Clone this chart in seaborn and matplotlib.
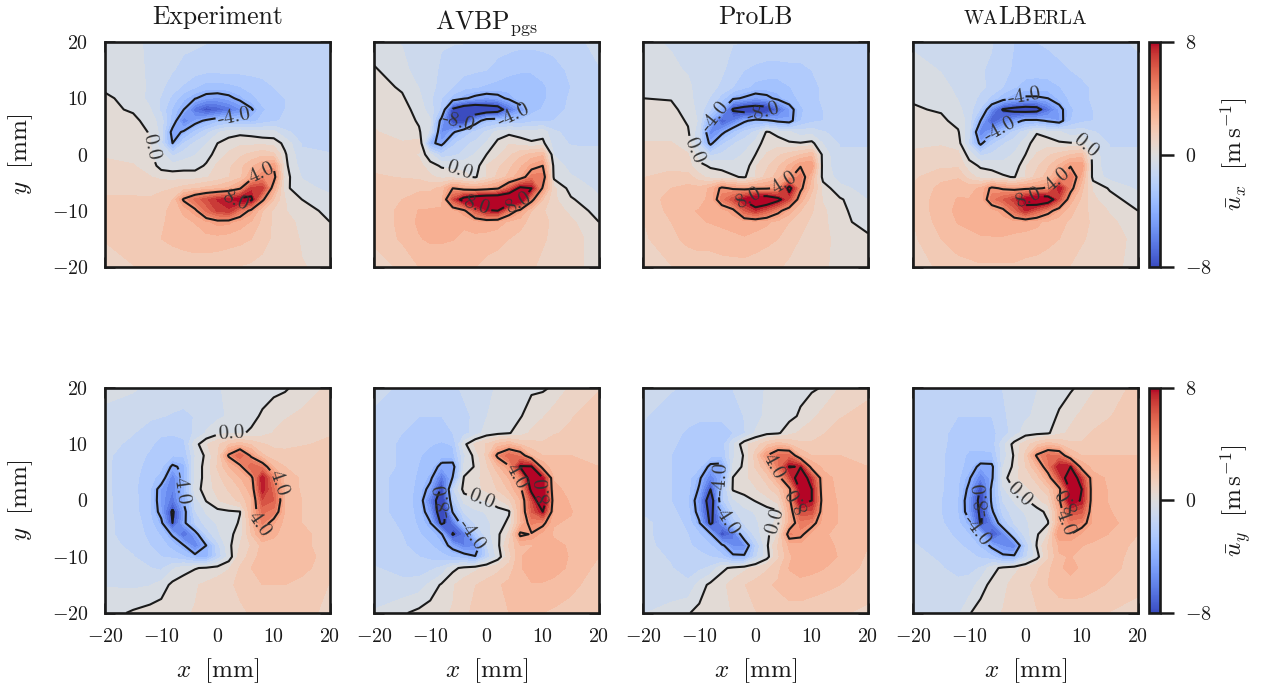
import numpy as np
import matplotlib
matplotlib.use("Agg")
import matplotlib.pyplot as plt
import seaborn as sns
from matplotlib.offsetbox import TextArea, HPacker, AnnotationBbox
from matplotlib.cm import ScalarMappable
from matplotlib.colors import Normalize

X_MM = [-20,-15,-12,-10,-8,-6,-4,-2,0,2,4,6,8,10,12,15,20]
Y_MM = [20,15,12,10,8,6,4,2,0,-2,-4,-6,-8,-10,-12,-15,-20]

EXP_UX = [
[-.3,-.5,-.8,-1.0,-1.1,-1.2,-1.2,-1.3,-1.3,-1.3,-1.3,-1.4,-1.5,-1.5,-1.5,-1.6,-1.7],
[-.2,-.4,-.8,-1.1,-1.3,-1.5,-1.7,-1.8,-1.8,-1.8,-1.8,-1.8,-1.8,-1.7,-1.6,-1.6,-1.7],
[-.1,-.3,-.8,-1.2,-1.7,-2.1,-2.6,-3.0,-3.0,-2.9,-2.7,-2.4,-2.2,-2,-1.8,-1.7,-1.7],
[.1,-.2,-.9,-1.4,-2.2,-3.2,-3.9,-4.6,-4.8,-4.4,-3.6,-2.9,-2.4,-2.2,-2,-1.8,-1.7],
[.2,-.1,-.6,-1.5,-2.8,-4.0,-6.5,-7.8,-7.2,-6.5,-5.5,-4.2,-2.8,-2.3,-2,-1.8,-1.7],
[.3,.2,-.3,-1,-3,-6,-4.6,-3.7,-3,-2.8,-2.8,-3,-2.4,-2.1,-1.9,-1.8,-1.7],
[.4,.3,-.05,-.9,-4.6,-3.8,-2.5,-1.6,-.8,-.3,-.2,-.3,-.5,-.5,-1.2,-1.6,-1.6],
[.5,.4,.05,-1.2,-4,-2,-1.2,-.7,0,.3,.5,.5,.5,.4,-.2,-1.4,-1.5],
[.6,.5,.1,-.4,-1.5,-1,-.7,-.3,.3,.8,1.2,1.5,1.8,1.5,.1,-1.2,-1.3],
[.8,.7,.4,-.3,-.4,-.3,-.3,.1,.8,1.2,1.8,2.5,3.2,3.8,.2,-1,-1.2],
[1,.9,.7,.5,.4,.4,.4,.6,.9,1.3,1.8,3.2,4.6,4.6,.3,-.7,-1],
[1.2,1.2,1.1,1.2,1.3,1.6,1.9,2.2,2.4,2.8,3.8,7,7,3.2,.2,-.5,-.8],
[1.4,1.4,1.4,1.6,2,4.2,5.5,6.5,7.4,7.8,8.6,8.4,4.3,2,.7,0,-.5],
[1.4,1.5,1.6,1.8,2.2,2.8,3.7,5.5,6.8,7.2,5.2,3.6,2,1.2,.7,.3,-.2],
[1.5,1.6,1.8,1.9,2.2,2.5,2.7,3.2,3.6,3.5,3,2.6,1.8,1.2,.9,.5,0],
[1.4,1.7,1.9,2,2.1,2.2,2.3,2.4,2.4,2.3,2.2,2,1.6,1.2,1,.6,.2],
[.8,1.3,1.5,1.6,1.7,1.7,1.7,1.6,1.5,1.4,1.3,1.2,1.1,1,.9,.7,.5],
]
AVBP_UX = [
[-.5,-.7,-.9,-1,-1.3,-1.3,-1.3,-1.5,-1.5,-1.6,-1.7,-1.8,-1.8,-1.8,-1.8,-1.7,-1],
[.1,-.5,-.9,-1.2,-1.4,-1.6,-1.8,-1.9,-2,-2.3,-2.5,-2.6,-2.6,-2.4,-2.2,-1.9,-1.4],
[.3,-.1,-.7,-1.1,-1.6,-2,-2.4,-2.6,-2.8,-2.9,-3,-3,-3,-2.8,-2.4,-2,-1.5],
[.4,.1,-.5,-1.2,-2,-3,-3.8,-4.4,-4.8,-4.5,-3.7,-3,-3,-2.8,-2.4,-1.9,-1.6],
[.5,.3,-.3,-1,-2.2,-8.4,-10,-10.5,-9.8,-9.4,-6.5,-4.7,-3,-2.6,-2.2,-1.9,-1.6],
[.6,.4,-.1,-.6,-4.6,-8.3,-8.7,-5,-3,-2.8,-2.7,-2.6,-2.2,-2.2,-2,-1.8,-1.6],
[.7,.5,.1,-.8,-5.5,-4.3,-2.6,-1.8,-1.2,-.4,-.2,-.4,-.4,-.3,-1.2,-1.6,-1.5],
[.9,.7,1,-3.6,-4.5,-2.2,-1.5,-1.2,-.6,.2,.6,.4,.1,.2,-1,-1.4,-1.4],
[1,.9,.6,-.5,-1.8,-1.5,-1.2,-.6,0,.5,1.2,1.8,2.2,2.5,-.7,-1.1,-1.2],
[1.2,1.1,.9,.3,-.1,-.2,-.2,-.4,.7,1.2,1.8,2.5,3.5,4,-.3,-.9,-1.1],
[1.4,1.3,1.2,.8,.5,.4,.2,-.1,.7,1.5,2.2,3.2,5,5,-.2,-.6,-1],
[1.5,1.6,1.8,1.8,2.2,4,3.3,3,3.3,3.8,6,8.5,8,3.8,.8,-.3,-.8],
[1.5,2,2.4,2.5,2.4,6.4,9,10,10.5,10.5,10.5,9.5,4.5,2,.8,.1,-.6],
[1.5,2.2,2.7,2.7,2.8,3.0,3.7,6,7.8,8,5,3.5,2,1.4,1,.5,-.3],
[1.5,2.2,2.8,2.8,2.8,2.8,2.8,3,3.2,3,2.5,2.2,1.8,1.5,1.2,.8,0],
[1.5,2.1,2.6,2.8,2.8,2.7,2.5,2.5,2.3,2.2,2,1.8,1.6,1.4,1.2,.9,.4],
[.9,1.5,2,2,2,2,2,2,1.8,1.7,1.6,1.6,1.4,1.2,1,.8,.5],
]
PROLB_UX = [
[-.6,-.7,-.8,-.9,-1,-1.2,-1.3,-1.3,-1.3,-1.4,-1.4,-1.5,-1.5,-1.5,-1.5,-1.5,-1.4],
[-.5,-.6,-.7,-.9,-1,-1.2,-1.7,-2,-2.2,-2.3,-2.3,-2.2,-2.2,-2,-1.8,-1.5,-1.4],
[-.3,-.4,-.6,-.8,-1.1,-1.5,-2,-2.5,-2.9,-3,-3,-2.7,-2.4,-2.2,-1.9,-1.6,-1.4],
[0,-.05,-.5,-.9,-1.4,-2.3,-3.7,-4.2,-4.8,-4.4,-3.6,-3,-2.5,-2.2,-1.9,-1.6,-1.4],
[.2,.2,-.3,-.9,-2,-3.7,-8.3,-9.2,-9.6,-9.2,-6.8,-4.8,-2.8,-2.3,-2,-1.6,-1.4],
[.4,.4,-.1,-.8,-3.8,-7.5,-6,-4.3,-3.4,-3.7,-4.3,-4.6,-2.7,-2.2,-2,-1.6,-1.4],
[.5,.5,.1,-1.2,-5.8,-4.5,-2.8,-1.8,-1.2,.1,-.3,-.6,-1,-.9,-1.3,-1.5,-1.4],
[.7,.7,.4,-1.5,-4.4,-2.2,-1.4,-1,-.5,.5,.4,.1,.05,.2,-.7,-1.4,-1.4],
[.9,.9,.7,-.4,-1.5,-1.2,-1,-.6,0,.7,1.2,1.6,2,2.4,-.3,-1.2,-1.2],
[1.1,1.1,.9,.2,-.1,-.2,-.4,-.5,.6,1.2,1.9,2.8,3.9,3.9,-.4,-1,-1.1],
[1.3,1.6,1.6,.9,.4,.3,.1,-.1,.7,1.6,2.3,3.7,5,2.6,-.3,-.9,-1],
[1.5,2,2.2,2.2,2.8,4.3,3.8,3.5,3.7,3.8,4.2,8.8,4.4,2.2,.4,-.5,-.9],
[1.5,2.3,2.5,2.5,2.8,5,6.5,8.3,9.8,9.8,8.6,6.5,3,1.6,.6,.1,-.7],
[1.4,2.2,2.6,2.7,2.7,3,3.6,6,7.2,6,4.5,3,2,1.4,.8,.2,-.5],
[1.3,2,2.5,2.6,2.7,2.8,2.9,3,3,2.8,2.4,2,1.6,1.2,.8,.3,-.4],
[1.2,1.8,2.2,2.3,2.3,2.4,2.5,2.6,2.4,2.2,2,1.6,1.3,1.1,.8,.5,.2],
[.9,1.3,1.5,1.6,1.6,1.7,1.7,1.7,1.6,1.5,1.4,1.2,1,.8,.7,.6,.4],
]
WAL_UX = [
[-.8,-1,-1.1,-1.2,-1.3,-1.3,-1.8,-2,-2,-2,-1.9,-1.7,-1.5,-1.4,-1.4,-1.4,-1.3],
[-.4,-.7,-1,-1.2,-1.3,-1.4,-1.8,-2.1,-2.3,-2.4,-2.3,-2.2,-2,-1.8,-1.6,-1.5,-1.4],
[-.2,-.5,-.8,-1,-1.2,-1.5,-2,-2.6,-3,-3,-3,-2.7,-2.4,-2.2,-1.9,-1.6,-1.4],
[-.1,-.3,-.7,-1,-1.5,-2.2,-3.2,-3.9,-4.2,-4.2,-4,-3.2,-2.5,-2.2,-1.9,-1.6,-1.4],
[.1,-.1,-.5,-1,-2.1,-5.5,-8.2,-8.8,-9.2,-9,-6.5,-4.6,-2.8,-2.3,-2,-1.6,-1.4],
[.2,.2,-.3,-.9,-4,-7.5,-6,-4.8,-3.6,-3.6,-4.2,-4.7,-2.7,-2.2,-2,-1.6,-1.4],
[.3,.3,.1,-1.2,-6,-4.6,-2.9,-1.8,-1,-.1,-.4,-.6,-1,-.9,-1.3,-1.5,-1.4],
[.5,.6,.4,-1.5,-4.4,-2.2,-1.4,-1,-.4,.5,.4,.1,.05,.1,-.7,-1.4,-1.4],
[.8,.9,.8,-.3,-1.5,-1.2,-1,-.6,0,.7,1.2,1.6,2,2.2,-.3,-1.2,-1.2],
[1,1.2,1.2,.3,-.1,-.2,-.4,-.5,.6,1.2,1.9,2.8,3.9,3.9,-.4,-1,-1.1],
[1.2,1.8,1.9,1,.4,.3,.1,-.05,.7,1.6,2.3,3.7,5.2,3,-.3,-.9,-1],
[1.4,2.2,2.5,2.4,2.8,4.3,3.8,3.5,3.7,3.8,4.2,8,4.6,2.2,.6,-.1,-.8],
[1.4,2.4,2.7,2.7,2.8,5,6,7,8.6,9.8,9.4,6.5,3,1.8,.8,.3,-.4],
[1.4,2.4,2.8,2.8,2.8,3,3.6,5.6,7.4,6,4.6,3.2,2.2,1.6,1.1,.6,0],
[1.3,2.3,2.7,2.8,2.9,3,3,3,3,2.8,2.5,2.2,1.9,1.6,1.2,.8,.3],
[1.2,2,2.4,2.5,2.6,2.6,2.6,2.5,2.4,2.4,2.2,2,1.7,1.4,1.2,.9,.5],
[.9,1.5,1.7,1.8,1.9,1.9,1.9,1.9,1.8,1.7,1.6,1.5,1.3,1.1,1,.8,.5],
]
EXP_UY = [
[-.5,-.6,-.8,-.9,-.9,-.9,-.8,-.8,-.7,-.6,-.5,-.4,-.3,-.2,-.1,.3,.8],
[-.8,-1,-1.2,-1.3,-1.4,-1.5,-1.3,-1,-.8,-.6,-.4,-.2,.1,.4,.6,.8,1.2],
[-1,-1.3,-1.7,-1.9,-1.9,-1.8,-1.2,-.6,-.2,-.1,-.1,.1,.4,.7,.9,1.1,1.3],
[-1.1,-1.5,-1.9,-2.2,-2.4,-2.2,-.3,.6,1.2,2,2.4,1.9,1.4,1.2,1.2,1.3,1.4],
[-1.2,-1.7,-2.1,-2.4,-2.6,-2.6,-.7,.2,1.2,4.2,6,3.7,2.1,1.6,1.5,1.5,1.5],
[-1.2,-1.8,-2.2,-2.5,-4.3,-3.6,-.5,.3,1.4,2.6,3.6,6,5,2.6,2,1.8,1.5],
[-1.2,-1.8,-2.4,-3,-6,-3.6,-.5,.3,1.1,1.8,2.6,3.5,8,4.6,2.4,1.9,1.6],
[-1.2,-1.8,-2.6,-4.8,-6,-3.5,-.3,.3,.9,1.4,2,3,7.8,5.5,2.5,1.9,1.6],
[-1.2,-1.7,-2.6,-4.9,-6.5,-3.8,-1,.05,.6,1,1.5,2.5,6.5,6,2.6,2,1.6],
[-1.2,-1.7,-2.6,-4.6,-8.4,-4.6,-1.4,-.6,-.2,-.1,-.03,2.7,5.5,5,2.6,2,1.6],
[-1.2,-1.6,-2.4,-3.6,-8,-4.4,-2,-1,-.6,-.4,.1,2.3,4.8,3.4,2.4,2,1.6],
[-1.2,-1.6,-2.2,-2.8,-4.2,-7,-4.8,-1.8,-.8,-.2,.3,2,3.6,2.8,2.4,2.2,1.6],
[-1.1,-1.5,-2,-2.3,-3,-3.9,-6,-4,-1.6,-.2,.7,1.4,2.2,2.4,2.4,2.2,1.6],
[-1,-1.3,-1.7,-2,-2.2,-2.6,-3.4,-3.6,-1.8,-.4,1,1.6,2.4,2.6,2.6,2.4,1.6],
[-.9,-1.1,-1.3,-1.5,-.8,-.3,-.05,.1,.3,.6,1.4,2,2.6,2.6,2.6,2.2,1.6],
[-.7,-.8,-.7,-.4,.2,.4,.6,.8,1,1.2,1.5,1.8,2,2,2,1.8,1.3],
[-.3,.1,.3,.4,.5,.6,.7,.8,.9,1,1.2,1.4,1.6,1.6,1.6,1.5,1.2],
]
AVBP_UY = [
[-.8,-1.6,-1.6,-1.6,-1.6,-1.5,-1.2,-1,-.8,-.6,-.4,-.2,-.1,-.1,.1,.8,1.3],
[-1.6,-1.9,-2,-2,-2,-1.9,-1.5,-1.2,-.7,-.3,-.2,-.05,.3,.6,1,1.3,1.6],
[-1.7,-2,-2.2,-2.2,-2.2,-2,-1.6,-1,-.4,-.2,-.05,.3,.8,1.1,1.3,1.4,1.7],
[-1.7,-2.1,-2.4,-2.6,-2.8,-2.6,-.2,.8,1.4,2.2,2.6,1.9,1.6,1.4,1.5,1.6,1.8],
[-1.7,-2.1,-2.6,-2.9,-3.1,-3,-.8,.3,1.5,4.4,5.8,5,2.6,2,2,2,2],
[-1.7,-2.1,-2.7,-3,-4.5,-4.6,-.6,.1,1.2,2.4,3.8,8.2,8.2,3.2,2.2,2.2,2],
[-1.8,-2.2,-2.8,-3.6,-6.5,-3.9,.1,.5,.9,1.7,2.7,4.5,9.8,8.1,2.6,2.3,2.1],
[-1.8,-2.2,-2.9,-4.6,-8.4,-1.5,.3,.5,.8,1.4,2.1,3.4,8.6,8.6,2.8,2.5,2.1],
[-1.8,-2.2,-3,-6,-10,-2.2,-.5,-.15,.05,.5,1.2,2.6,6.5,10,3,2.6,2.1],
[-1.8,-2.2,-2.9,-5,-10,-3.8,-1.2,-.8,-.6,-.3,-.1,2.6,6,8,2.9,2.7,2.1],
[-1.7,-2.1,-2.8,-3.9,-8.5,-6.5,-2.4,-1.2,-.8,-.4,.2,2.5,4.8,4.4,2.7,2.6,2.1],
[-1.7,-2,-2.6,-3,-3.8,-8.2,-6.5,-2.4,-1,-.15,.8,4.3,3.9,3,2.6,2.6,2.1],
[-1.6,-1.9,-2.3,-2.6,-3.2,-4.6,-6,-5.4,-1.4,-.2,1.4,2.6,2.6,2.8,2.8,2.6,2.1],
[-1.5,-1.7,-2,-2.2,-2.4,-2.8,-3.2,-3.9,-1.8,-.4,1,2.6,3,3,3,2.6,2],
[-1.3,-1.5,-1.7,-1.5,-1.2,-.2,.2,.5,.8,1.1,1.6,2.6,3,3,3,2.5,1.8],
[-1.1,-1.2,-1,-.5,.1,.6,1,1.3,1.6,1.9,2.2,2.6,2.6,2.6,2.4,2.2,1.6],
[-.6,-.1,.2,.4,.6,.7,1,1.7,1.9,2,2,2,2,2,1.9,1.7,1.3],
]
PROLB_UY = [
[-1.3,-1.3,-1.4,-1.4,-1.4,-1.4,-1.3,-1.2,-.9,-.6,-.5,-.3,-.2,-.1,.05,.7,1.2],
[-1.3,-1.5,-1.8,-1.9,-1.9,-1.9,-1.8,-1.3,-.9,-.5,-.3,-.2,.1,.5,.9,1.3,1.5],
[-1.4,-1.8,-2.1,-2.2,-2.2,-2.2,-2,-1.4,-.6,-.2,-.1,.4,.8,1.1,1.3,1.5,1.7],
[-1.5,-1.9,-2.2,-2.4,-2.4,-2.4,-.8,.5,1,1.8,2.4,2,1.5,1.4,1.5,1.7,1.8],
[-1.5,-2,-2.3,-2.4,-2.4,-2.6,-.8,.1,1.6,4,5.5,5.5,2.6,2,2,2,1.9],
[-1.5,-2,-2.3,-2.5,-4.5,-4.6,-.6,.2,1.4,2.6,5,8.1,7.9,3.3,2.5,2.3,2],
[-1.5,-2,-2.3,-3.7,-6,-3.9,.05,.5,.9,1.6,3.2,6.5,9.5,7,3,2.4,2],
[-1.5,-2,-2.4,-4.2,-8,-2.5,.1,.3,.6,1.1,1.8,3.6,8.5,8,3,2.5,2],
[-1.5,-2,-2.6,-5,-9.8,-2.3,-.8,-.3,.05,.4,.9,3.5,9,8,3.3,2.5,2],
[-1.4,-1.8,-2.4,-4.7,-9,-4,-1.5,-.9,-.6,-.3,-.1,3,6.5,6.5,3.2,2.6,2],
[-1.2,-1.6,-2.2,-3.8,-8.5,-5.5,-2.6,-1.2,-.8,-.3,.2,2.9,5,4.6,3,2.6,2],
[-1.2,-1.6,-2,-2.6,-3.7,-8,-6.5,-2.6,-1,-.2,.7,4.8,4.4,3,2.7,2.6,2],
[-1.2,-1.5,-1.9,-2.2,-2.6,-3.6,-5.5,-5.5,-2,-.15,1.4,2.8,3,2.9,2.8,2.6,2],
[-1.1,-1.4,-1.7,-1.8,-2,-2.4,-3.6,-3.7,-1.5,-.3,1.2,2.5,3.2,3.1,3,2.6,1.9],
[-1,-1.3,-1.6,-1.5,-1.2,-.2,.2,.5,.8,1.2,1.8,2.7,3,2.9,2.7,2.4,1.8],
[-.9,-1.1,-1.2,-.4,.2,.5,.9,1.3,1.6,1.9,2.1,2.4,2.4,2.3,2.2,2,1.6],
[-.7,-.4,-.05,.2,.4,.5,.7,.9,1.3,1.5,1.6,1.7,1.7,1.6,1.5,1.4,1.2],
]
WAL_UY = [
[-1.4,-1.6,-1.7,-1.7,-1.7,-1.6,-1.3,-1.1,-.9,-.7,-.5,-.3,-.1,.2,.6,.9,1.6],
[-1.5,-1.7,-2,-2,-2,-2,-1.5,-1,-.8,-.5,-.3,.1,.5,.8,1,1.3,1.8],
[-1.5,-1.8,-2.3,-2.4,-2.4,-2.2,-1.7,-1,-.3,-.2,-.1,.5,.8,1.1,1.4,1.6,1.9],
[-1.5,-1.8,-2.4,-2.5,-2.5,-2.4,-.9,.3,1,1.8,2.4,2,1.5,1.4,1.5,1.7,1.9],
[-1.5,-1.9,-2.4,-2.8,-2.8,-2.8,-1,.1,1.5,4.2,5.5,5.3,2.6,2,2,2,2],
[-1.5,-1.9,-2.4,-3,-4.5,-4.4,-.7,.2,1.3,2.6,5,8,8,3.2,2.4,2.2,2.1],
[-1.5,-1.9,-2.5,-3.8,-6,-4.3,-.3,.5,.9,1.6,3.2,6.5,9.5,7,3,2.5,2.2],
[-1.5,-1.9,-2.6,-4.4,-8.2,-3.6,-.8,.05,.5,1,1.8,3.6,8.5,8,3,2.6,2.2],
[-1.6,-2,-2.7,-4.9,-9,-3.6,-1.3,-.6,-.1,.5,1,3.7,9,7.8,3,2.6,2.1],
[-1.6,-2,-2.7,-4.8,-8.6,-4.3,-1.7,-1,-.6,-.3,.2,3,6.5,6.2,3,2.7,2.1],
[-1.5,-1.9,-2.5,-3.7,-8.2,-6,-2.5,-1.3,-.8,-.3,-.05,3,5,4.6,3.2,2.9,2.1],
[-1.4,-1.7,-2.2,-2.7,-3.6,-7.9,-6,-2.6,-1,-.1,.7,4,4,3.2,3.2,2.6,2],
[-1.3,-1.5,-1.9,-2.2,-2.8,-4.4,-5.5,-6,-2,.05,1.4,2.8,2.8,2.7,2.4,2.2,1.9],
[-1.2,-1.4,-1.6,-1.8,-2.1,-2.5,-3.6,-3.7,-1.5,-.3,1.2,2.6,2.7,2.4,2.3,2.2,1.8],
[-1.1,-1.3,-1.5,-1.5,-1.3,-.3,.2,.5,.8,1.2,1.8,2.6,2.8,2.6,2.4,2.2,1.7],
[-1,-1.2,-1.2,-1.1,-.3,.2,.5,.9,1.2,1.5,2,2.4,2.5,2.4,2.2,1.9,1.5],
[-.9,-.9,-.8,-.05,.3,.5,.7,.9,1.1,1.3,1.5,1.5,1.5,1.5,1.4,1.3,1.1],
]

LABELS_UX = [
    [(-11.6,1.3),(3,6.7),(7.4,-2.8),(3,-8.5)],
    [(-5,6.4),(5.3,5.5),(-5,-3.7),(-1.8,-9.3),(5.6,-8.2)],
    [(-7.6,7.3),(1.4,8),(-10.8,.8),(-1.3,-7.6),(4.7,-4.6)],
    [(-.3,10.6),(-5.4,6.1),(10.4,1.3),(5.4,-4),(.6,-7.9)],
]
LABELS_UY = [
    [(2.4,12.1),(-6.8,2.3),(6.8,-4.5),(8.6,2.6)],
    [(-7.7,0),(-3,-6.3),(-.9,.2),(5,4.1),(10,1.7)],
    [(-5.8,3.8),(-6.1,-3.9),(3.8,-3.9),(3.2,6.2),(7.6,.2)],
    [(-7.7,.2),(-9,-5.7),(-1.5,.5),(5.7,-4.5),(7.7,.2)],
]
TICKS = [-20,-10,0,10,20]
TICK_TEXT = ["$-20$","$-10$","$0$","$10$","$20$"]
CBAR_TICKS = [-8,0,8]
CBAR_TEXT = ["$-8$","$0$","$8$"]
LEVELS_LINES = [-8,-4,0,4,8]

sns.set_theme(style="ticks", context="notebook")
plt.rcParams.update({
    "font.family": ["cmr10", "DejaVu Sans"],
    "mathtext.fontset": "cm",
    "axes.formatter.use_mathtext": True,
    "axes.unicode_minus": False,
    "contour.negative_linestyle": "solid",
    "text.color": "k", "axes.labelcolor": "k",
    "xtick.color": "k", "ytick.color": "k",
    "axes.edgecolor": "k",
})
cmap = sns.color_palette("coolwarm", as_cmap=True)
W, H = 1263, 689
fig = plt.figure(figsize=(W/100, H/100), dpi=100)
norm = Normalize(-8, 8)
fill_levels = np.linspace(-8, 8, 25)
lefts = [105, 374, 643, 913]
tops = [42, 388]
size = 225
fields = [[EXP_UX, AVBP_UX, PROLB_UX, WAL_UX], [EXP_UY, AVBP_UY, PROLB_UY, WAL_UY]]
labels = [LABELS_UX, LABELS_UY]
TICK_FS, LAB_FS, TITLE_FS = 14.4, 18, 18.5
TITLE_Y = 1.058


def title_box(ax, parts):
    kids = [TextArea(t, textprops=dict(fontsize=fs, family=["cmr10"], color="k")) for t, fs in parts]
    box = HPacker(children=kids, align="baseline", pad=0, sep=0)
    ab = AnnotationBbox(box, (0.5, TITLE_Y), xycoords="axes fraction", box_alignment=(0.5, 0),
                        frameon=False, pad=0)
    ax.add_artist(ab)

small = TITLE_FS * 0.76
titles = [
    [("Experiment", TITLE_FS)],
    None,
    [("ProLB", TITLE_FS)],
    [("wa".upper(), small), ("LB", TITLE_FS), ("erla".upper(), small)],
]

for r in range(2):
    for c in range(4):
        ax = fig.add_axes([lefts[c]/W, 1-(tops[r]+size)/H, size/W, size/H])
        Z = np.array(fields[r][c], dtype=float)
        ax.contourf(X_MM, Y_MM, Z, levels=fill_levels, cmap=cmap, norm=norm, extend="both")
        cs = ax.contour(X_MM, Y_MM, Z, levels=LEVELS_LINES, colors="k", linewidths=1.5)
        txt = ax.clabel(cs, fmt="%.1f", manual=labels[r][c], fontsize=15, inline=True, inline_spacing=2)
        for t in txt:
            t.set_color("#333333")
            rot = t.get_rotation()
            if r == 1 and rot > 45 and t.get_text() in ("8.0", "-8.0"):
                t.set_rotation(rot - 180)
        ax.set_xlim(-20, 20); ax.set_ylim(-20, 20)
        ax.set_aspect("auto")
        ax.set_xticks(TICKS); ax.set_yticks(TICKS)
        ax.tick_params(direction="in", length=7, width=1.8, top=True, right=True, bottom=True, left=True,
                       labelsize=TICK_FS, labelbottom=(r == 1), labelleft=(c == 0))
        ax.tick_params(axis="x", pad=11)
        ax.tick_params(axis="y", pad=12)
        ax.set_xticklabels(TICK_TEXT if r == 1 else [])
        ax.set_yticklabels(TICK_TEXT if c == 0 else [])
        for s in ax.spines.values():
            s.set_linewidth(1.9); s.set_color("k")
        if r == 1:
            ax.set_xlabel(r"$x\ \ [\mathrm{mm}]$", fontsize=LAB_FS, labelpad=7)
        if c == 0:
            ax.set_ylabel(r"$y\ \ [\mathrm{mm}]$", fontsize=LAB_FS, labelpad=12)
        if r == 0:
            if c == 1:
                ax.text(0.5, TITLE_Y, r"$\mathrm{AVBP}_{\mathrm{pgs}}$", transform=ax.transAxes, ha="center",
                        va="baseline", fontsize=TITLE_FS)
            else:
                title_box(ax, titles[c])

for r, name in enumerate([r"$\bar{u}_x\ \ [\mathrm{m\,s^{-1}}]$", r"$\bar{u}_y\ \ [\mathrm{m\,s^{-1}}]$"]):
    cax = fig.add_axes([1149/W, 1-(tops[r]+size)/H, 11/W, size/H])
    cb = fig.colorbar(ScalarMappable(norm=norm, cmap=cmap), cax=cax)
    cb.set_ticks(CBAR_TICKS)
    cb.set_ticklabels(CBAR_TEXT)
    cb.ax.tick_params(direction="out", length=10, width=1.8, labelsize=TICK_FS, pad=8)
    cb.outline.set_linewidth(1.9)
    cb.set_label(name, fontsize=LAB_FS, labelpad=5, rotation=90)

fig.savefig("out.png", dpi=100)
